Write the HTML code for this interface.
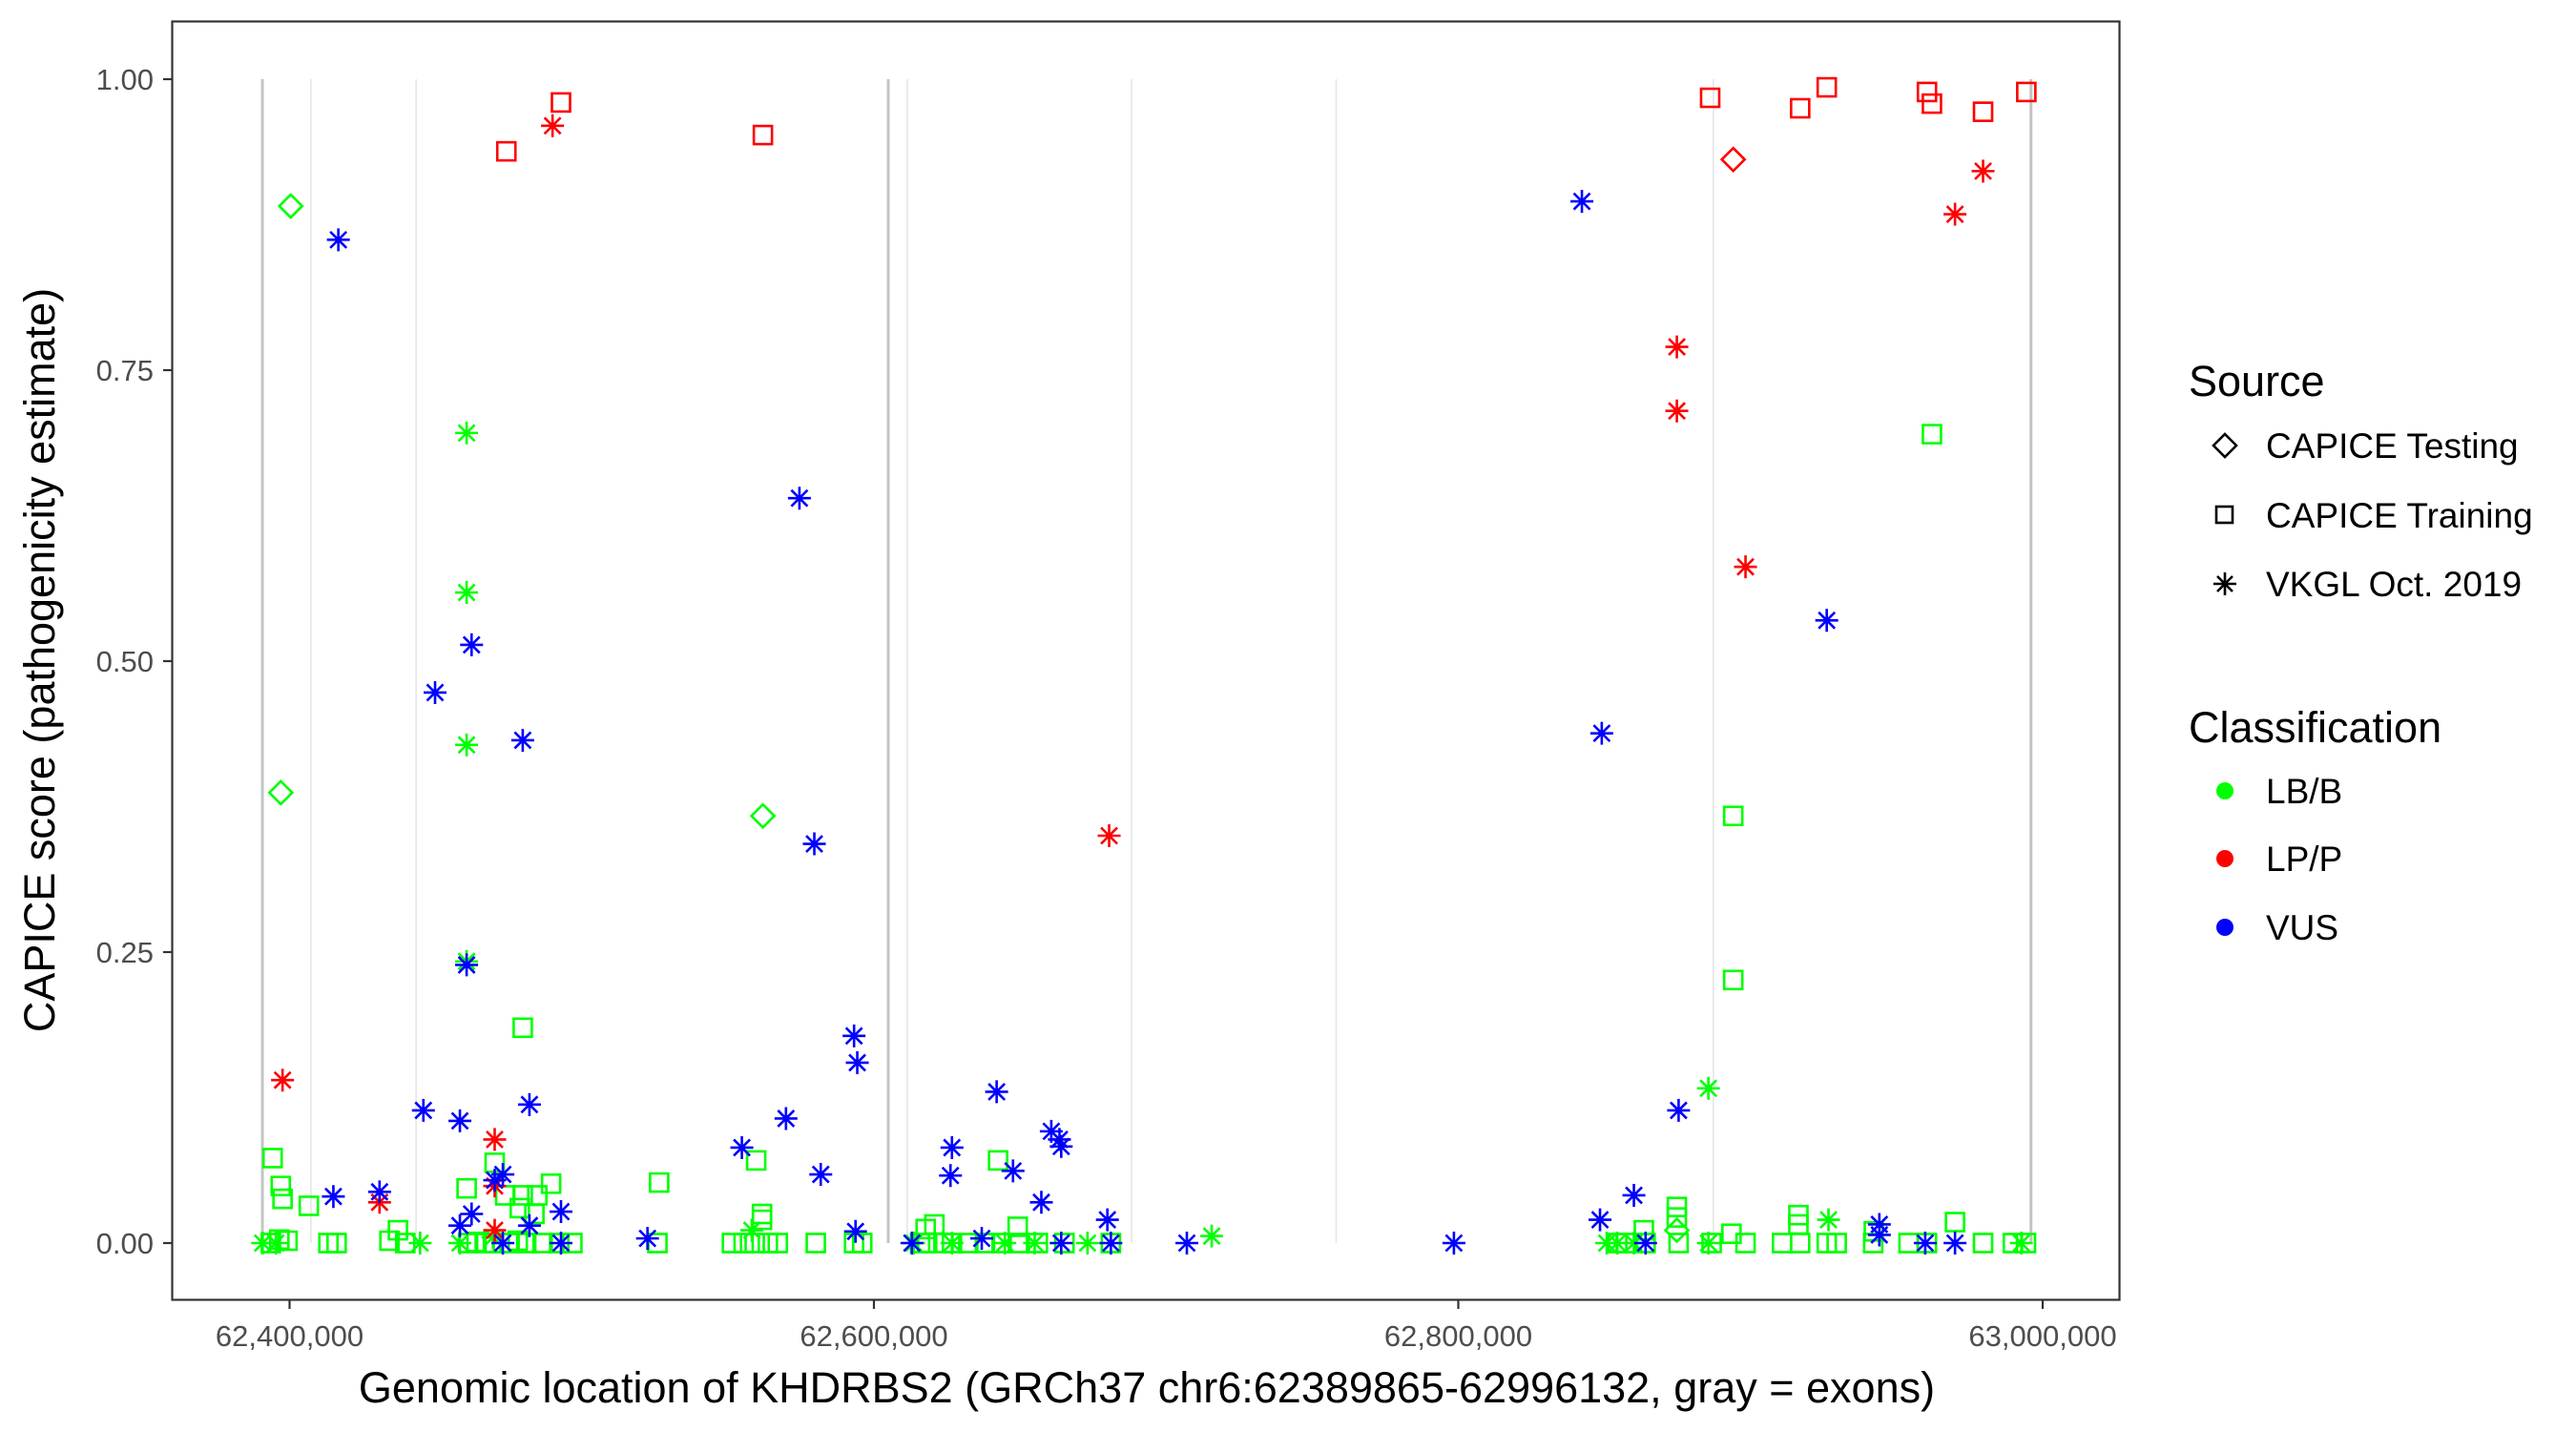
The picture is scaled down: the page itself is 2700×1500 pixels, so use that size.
<!DOCTYPE html>
<html><head><meta charset="utf-8">
<style>
html,body{margin:0;padding:0;background:#fff;}
svg{display:block;font-family:"Liberation Sans",Arial,sans-serif;}
</style></head>
<body>
<svg id="chart" width="2700" height="1500" viewBox="0 0 2700 1500" xmlns="http://www.w3.org/2000/svg">
<rect x="0" y="0" width="2700" height="1500" fill="#fff"/>
<g id="exons"></g>
<g id="points"></g>
<rect x="180.5" y="22.5" width="2041" height="1340" fill="none" stroke="#333" stroke-width="2.2"/>
<g id="yaxis"></g>
<g id="xaxis"></g>
<text x="1202" y="1470" font-size="45" text-anchor="middle" fill="#000">Genomic location of KHDRBS2 (GRCh37 chr6:62389865-62996132, gray = exons)</text>
<text transform="translate(57,692) rotate(-90)" font-size="45" text-anchor="middle" fill="#000">CAPICE score (pathogenicity estimate)</text>
<g font-size="37">
  <text x="2294" y="415" font-size="45">Source</text>
  <g>
    <path d="M2332 455 L2344 467 L2332 479 L2320 467 Z" fill="none" stroke="#000" stroke-width="2.6"/>
    <text x="2375" y="480">CAPICE Testing</text>
  </g>
  <g>
    <rect x="2323" y="531" width="17" height="17" fill="none" stroke="#000" stroke-width="2.6"/>
    <text x="2375" y="553">CAPICE Training</text>
  </g>
  <g>
    <path d="M2332 600 V624 M2320 612 H2344 M2324 604 L2340 620 M2324 620 L2340 604" stroke="#000" stroke-width="2.6"/>
    <text x="2375" y="625">VKGL Oct. 2019</text>
  </g>
  <text x="2294" y="778" font-size="45">Classification</text>
  <g>
    <circle cx="2332" cy="829" r="9" fill="#00ff00"/>
    <text x="2375" y="842">LB/B</text>
  </g>
  <g>
    <circle cx="2332" cy="900" r="9" fill="#ff0000"/>
    <text x="2375" y="913">LP/P</text>
  </g>
  <g>
    <circle cx="2332" cy="972" r="9" fill="#0000ff"/>
    <text x="2375" y="985">VUS</text>
  </g>
</g>
</svg>
<script>
// ---- data (genomic positions in kb, scores) ----
const exonPos = [62390.7, 62407.3, 62443.3, 62604.9, 62611.4, 62688.2, 62758.2, 62887.3, 62996.0];
const exonStrong = [1,0,0,1,0,0,0,0,1];
const yTicks = [0, 0.25, 0.5, 0.75, 1.0];
const yTickLabels = ["0.00","0.25","0.50","0.75","1.00"];
const xTicks = [62400, 62600, 62800, 63000];
const xTickLabels = ["62,400,000","62,600,000","62,800,000","63,000,000"];

// LB/B (green)
const lbbPos = [62400.4,62397.0,62562.0,62874.8, 62460.6,62460.6,62460.6,62460.6,62885.6,62715.6,62558.2,62926.7,
 62390.8,62395.3,62444.7,62458.3,62469.6,62613.6,62626.7,62644.8,62655.0,62673.1,62850.8,62854.4,62860.1,62885.6,62992.7,
 62479.8,62962.1,62894.1,62894.1,62394.2,62397.0,62397.6,62406.6,62526.5,62559.7,62561.7,62561.7,62642.5,62460.6,62470.2,62489.5,62473.8,62479.8,62484.8,62478.8,62483.8,62649.2,62617.7,62620.7,62874.8,62874.8,62863.5,62916.4,62916.4,62893.5,62970.0,62942.2,62437.1,
 62393.6,62396.5,62399.3,62413.3,62416.1,62434.2,62439.6,62461.1,62464.0,62466.8,62469.6,62475.3,62478.1,62481.0,62486.6,62492.3,62496.8,62525.9,62551.4,62555.4,62559.2,62563.7,62567.1,62580.1,62593.2,62596.0,62615.8,62618.2,62623.8,62626.7,62632.3,62638.0,62643.7,62649.3,62656.1,62665.2,62681.1,62854.4,62857.3,62864.1,62875.4,62886.7,62898.3,62910.8,62917.0,62926.1,62929.5,62942.0,62954.1,62960.4,62979.6,62989.8,62994.3];
const lbbScore = [0.891,0.387,0.367,0.011, 0.696,0.559,0.428,0.242,0.133,0.006,0.011,0.020,
 0,0,0,0,0.005,0,0,0,0,0,0,0,0,0,0,
 0.185,0.695,0.367,0.226,0.073,0.049,0.038,0.032,0.052,0.071,0.025,0.020,0.071,0.047,0.069,0.051,0.041,0.041,0.041,0.030,0.025,0.014,0.012,0.016,0.031,0.022,0.011,0.024,0.016,0.008,0.018,0.010,0.011,
 0,0.003,0.002,0,0,0.002,0,0,0.001,0,0,0,0.002,0,0,0,0,0,0,0,0,0,0,0,0,0,0,0,0,0,0,0,0,0,0,0,0,0,0,0,0,0,0,0,0,0,0,0,0,0,0,0,0];
const lbbSrc = ["T","T","T","T", "V","V","V","V","V","V","V","V",
 "V","V","V","V","V","V","V","V","V","V","V","V","V","V","V",
 "R","R","R","R","R","R","R","R","R","R","R","R","R","R","R","R","R","R","R","R","R","R","R","R","R","R","R","R","R","R","R","R","R",
 "R","R","R","R","R","R","R","R","R","R","R","R","R","R","R","R","R","R","R","R","R","R","R","R","R","R","R","R","R","R","R","R","R","R","R","R","R","R","R","R","R","R","R","R","R","R","R","R","R","R","R","R","R"];

// LP/P (red)
const lppPos = [62474.2,62492.9,62490.0,62562.0,62397.6,62430.8,62470.2,62470.2,62470.2,62680.5,
 62886.2,62917.0,62926.1,62960.4,62962.1,62979.6,62994.4,62894.1,62979.6,62970.0,62874.8,62874.8,62898.3];
const lppScore = [0.938,0.980,0.960,0.952,0.140,0.035,0.089,0.049,0.011,0.350,
 0.984,0.975,0.993,0.989,0.979,0.972,0.989,0.931,0.921,0.884,0.770,0.715,0.581];
const lppSrc = ["R","R","V","R","V","V","V","V","V","V",
 "R","R","R","R","R","R","R","T","V","V","V","V","V"];

// VUS (blue)
const vusPos = [62416.7,62574.5,62462.3,62449.8,62479.8,62579.6,62460.6,62593.2,62594.3,62642.0,62569.9,62445.8,62458.3,62482.1,62554.8,62626.7,62626.2,62581.8,62647.6,62660.7,62663.5,62664.1,62657.3,62679.9,62415.0,62430.8,62473.0,62470.2,62462.3,62458.3,62482.1,62492.9,62473.0,62492.9,62522.5,62593.7,62613.0,62636.9,62664.1,62681.1,62707.1,
 62842.3,62926.1,62849.1,62875.4,62860.1,62848.5,62798.5,62944.1,62944.1,62959.8,62970.0,62864.1];
const vusScore = [0.862,0.640,0.514,0.473,0.432,0.343,0.239,0.178,0.155,0.130,0.107,0.114,0.105,0.119,0.082,0.082,0.058,0.059,0.062,0.096,0.089,0.083,0.035,0.020,0.040,0.044,0.059,0.054,0.025,0.015,0.015,0.027,0,0,0.004,0.010,0,0.004,0,0,0,
 0.895,0.535,0.438,0.114,0.041,0.020,0,0.016,0.007,0,0,0];

// ---- scales ----
const X0 = 303.5, XK = 3.0625; // px per kb
function xs(v){ return X0 + (v - 62400) * XK; }
function ys(s){ return 1303 - s * 1220; }

const NS = "http://www.w3.org/2000/svg";
function mk(tag, attrs, parent){
  const el = document.createElementNS(NS, tag);
  for (const k in attrs) el.setAttribute(k, attrs[k]);
  parent.appendChild(el);
  return el;
}

// exon lines
const gEx = document.getElementById('exons');
exonPos.forEach((p,i)=>{
  const l = mk('line', {x1:xs(p), x2:xs(p), y1:ys(1), y2:ys(0), stroke: exonStrong[i] ? '#c4c4c4' : '#e6e6e6', 'stroke-width': exonStrong[i] ? 3 : 1.6}, gEx);
  
  
});

// y axis
const gY = document.getElementById('yaxis');
yTicks.forEach((t,i)=>{
  const tk = mk('line', {x1:171, x2:180, y1:ys(t), y2:ys(t), stroke:'#333', 'stroke-width':2.2}, gY);
  
  
  const tx = mk('text', {x:161, y:ys(t)+11, 'font-size':31, 'text-anchor':'end', fill:'#4d4d4d'}, gY);
  tx.textContent = yTickLabels[i];
  
  
});
// x axis
const gX = document.getElementById('xaxis');
xTicks.forEach((t,i)=>{
  const tk = mk('line', {x1:xs(t), x2:xs(t), y1:1363, y2:1372, stroke:'#333', 'stroke-width':2.2}, gX);
  
  
  const tx = mk('text', {x:xs(t), y:1411, 'font-size':31, 'text-anchor':'middle', fill:'#4d4d4d'}, gX);
  tx.textContent = xTickLabels[i];
  
  
});

// points
const gP = document.getElementById('points');
function drawPoint(p, s, src, col, name){
  const x = xs(p), y = ys(s);
  let el;
  if (src === 'R') {
    el = mk('rect', {x:x-9.5, y:y-9.5, width:19, height:19, fill:'none', stroke:col, 'stroke-width':2.6}, gP);
  } else if (src === 'T') {
    el = mk('path', {d:`M${x} ${y-12} L${x+12} ${y} L${x} ${y+12} L${x-12} ${y} Z`, fill:'none', stroke:col, 'stroke-width':2.6}, gP);
  } else {
    const r = 12, d = 8.5;
    el = mk('path', {d:`M${x} ${y-r} V${y+r} M${x-r} ${y} H${x+r} M${x-d} ${y-d} L${x+d} ${y+d} M${x-d} ${y+d} L${x+d} ${y-d}`, stroke:col, 'stroke-width':2.6, fill:'none'}, gP);
  }
  
  
}
lbbPos.forEach((p,i)=>drawPoint(p, lbbScore[i], lbbSrc[i], '#00ff00', 'point-lbb'));
lppPos.forEach((p,i)=>drawPoint(p, lppScore[i], lppSrc[i], '#ff0000', 'point-lpp'));
vusPos.forEach((p,i)=>drawPoint(p, vusScore[i], 'V', '#0000ff', 'point-vus'));
</script>
</body></html>
